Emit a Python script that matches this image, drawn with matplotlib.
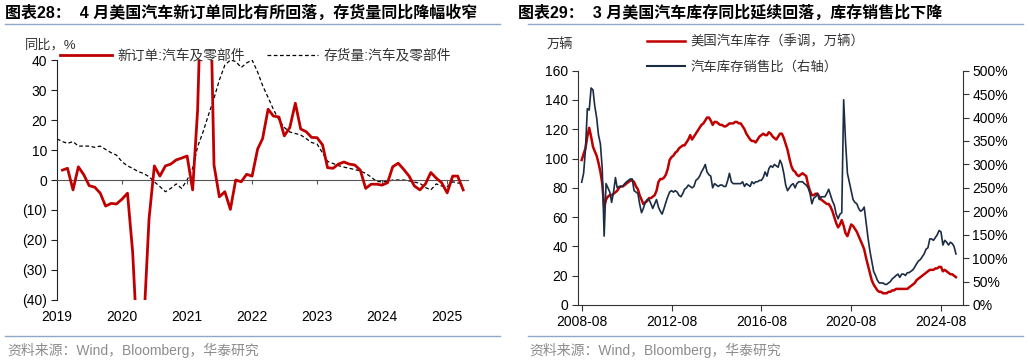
import numpy as np
import pandas as pd
import matplotlib
matplotlib.use('Agg')
import matplotlib.pyplot as plt
import matplotlib.dates as mdates
from matplotlib.ticker import FuncFormatter, MultipleLocator
from matplotlib.lines import Line2D

plt.rcParams['font.family'] = ['Liberation Sans', 'Noto Sans CJK SC']
plt.rcParams['axes.unicode_minus'] = False

RED = '#C00000'
NAVY = '#1B2C45'
RULE = '#8FA8C8'

# ---- 图表28 数据（月度，2019-01 起）----
# 新订单:汽车及零部件 同比（2019-02 起）
new_orders = [3.3, 3.9, -3.3, 4.4, 1.7, -1.9, -2.4, -4.4, -8.7, -7.8, -8.0,
              -6.4, -4.4, -24.0, -60.0, -50.0, -13.0, 4.7, 1.3, 4.7, 5.3, 6.7, 7.3,
              8.0, -3.3, 23.3, 87.0, 95.0, 5.0, -5.6, -3.9, -9.8, 0.0, -0.6, 1.9,
              1.3, 10.3, 13.8, 23.6, 21.3, 21.0, 14.7, 17.5, 25.6, 17.0, 16.1, 14.2,
              14.1, 11.7, 4.1, 3.9, 5.3, 6.0, 5.3, 5.0, 3.3, -2.8, -1.4, -1.4,
              -1.7, -0.9, 4.4, 5.6, 3.6, 1.3, -2.0, -3.3, -1.3, 2.5, 0.6, -0.9,
              -4.3, 1.3, 1.3, -3.3]
# 存货量:汽车及零部件 同比（2019-01 起）
inventory_yoy = [13.7, 12.8, 12.2, 12.8, 11.3, 11.3, 11.3, 10.9, 11.3, 10.2, 9.1, 8.3,
                 6.1, 4.7, 3.9, 2.8, 2.2, 1.1, -0.6, -2.2, -3.9, -2.8, -1.3, -2.8,
                 0.0, 3.9, 11.1, 16.1, 21.7, 27.2, 33.3, 38.3, 40.0, 39.5, 37.5, 39.0,
                 40.0, 36.0, 31.5, 27.5, 23.5, 20.0, 17.5, 16.0, 15.5, 15.0, 13.8, 12.5,
                 12.0, 9.0, 6.2, 5.5, 4.8, 4.3, 3.9, 3.5, 3.0, 2.2, 1.0, -0.5,
                 -0.6, -0.5, 0.0, 0.0, 0.0, -0.3, -0.7, -1.1, -2.5, -3.3, -1.3, -2.0,
                 -2.2, -0.6, -1.0, -1.3]
left_years = [2019, 2020, 2021, 2022, 2023, 2024, 2025]

# ---- 图表29 数据（月度，2008-08 起）----
# 美国汽车库存（季调，万辆）
us_inventory = [99, 103, 107, 115, 121, 115, 108, 105, 102, 97, 91, 83,
                67, 72, 74, 75, 75, 76, 77, 78, 80, 81, 81, 82,
                83, 84, 85, 85, 84, 81, 79, 75, 72, 69, 70, 71,
                73, 73, 74, 75, 78, 84, 86, 86, 87, 89, 93, 99,
                101, 102, 104, 105, 107, 108, 109, 109, 111, 113, 116, 113,
                115, 117, 119, 121, 123, 124, 126, 128, 128, 126, 123, 125,
                125, 124, 123, 123, 122, 122, 123, 124, 124, 124, 125, 125,
                124, 124, 122, 120, 117, 115, 113, 112, 112, 111, 113, 115,
                116, 117, 116, 116, 118, 117, 115, 114, 113, 115, 117, 117,
                114, 110, 106, 100, 95, 92, 91, 89, 88, 89, 90, 89,
                88, 82, 78, 75, 75, 76, 76, 74, 72, 71, 70, 69,
                69, 67, 64, 60, 56, 53, 55, 58, 54, 49, 47, 51,
                55, 54, 52, 50, 47, 44, 41, 38, 32, 27, 22, 17,
                14, 12, 10, 9, 9, 8, 8, 8, 9, 9, 10, 10,
                11, 11, 11, 11, 11, 11, 11, 12, 13, 14, 15, 17,
                18, 19, 20, 21, 22, 23, 24, 24, 24, 25, 25, 26,
                26, 23, 24, 23, 22, 21, 21, 20, 19]
# 汽车库存销售比（右轴，%）
inv_sales_ratio = [262, 281, 331, 419, 416, 463, 459, 425, 400, 363, 344, 291,
                   147, 259, 250, 241, 219, 241, 272, 250, 253, 253, 253, 259,
                   263, 266, 269, 269, 244, 241, 238, 216, 197, 206, 219, 225,
                   225, 216, 206, 216, 225, 209, 200, 194, 206, 219, 231, 241,
                   244, 241, 244, 241, 234, 231, 238, 247, 250, 256, 253, 250,
                   253, 266, 269, 275, 284, 291, 300, 284, 278, 275, 250, 259,
                   256, 253, 256, 256, 253, 253, 266, 281, 263, 259, 259, 259,
                   259, 259, 263, 253, 259, 256, 253, 263, 259, 263, 263, 266,
                   266, 272, 284, 275, 291, 297, 294, 300, 297, 294, 309, 300,
                   281, 256, 244, 250, 256, 259, 250, 259, 263, 263, 263, 259,
                   256, 250, 238, 216, 228, 231, 238, 225, 231, 231, 231, 238,
                   247, 234, 222, 213, 194, 184, 194, 197, 438, 350, 281, 263,
                   244, 225, 219, 216, 206, 200, 203, 209, 175, 144, 116, 94,
                   72, 63, 53, 47, 47, 47, 44, 44, 47, 50, 56, 59,
                   63, 66, 59, 66, 66, 63, 69, 69, 72, 75, 81, 88,
                   94, 97, 103, 109, 119, 122, 141, 141, 138, 144, 150, 159,
                   156, 128, 138, 134, 128, 134, 131, 125, 109]
right_ticks = ['2008-08', '2012-08', '2016-08', '2020-08', '2024-08']

fig = plt.figure(figsize=(10.29, 3.62), dpi=100)
W, H = 1029.0, 362.0

# ---------------- 左图 ----------------
left_dates = pd.date_range('2019-01-01', periods=len(inventory_yoy), freq='MS')
ax1 = fig.add_axes([57 / W, 62 / H, 411 / W, 240 / H])
ax1.plot(left_dates[1:], new_orders, color=RED, lw=2.0, zorder=3)
ax1.plot(left_dates, inventory_yoy, color='black', lw=0.9, ls=(0, (3, 2)), zorder=2)
ax1.set_ylim(-40, 40)
ax1.set_xlim(pd.Timestamp('2019-01-01'), pd.Timestamp('2025-04-28'))
ax1.yaxis.set_major_locator(MultipleLocator(10))
ax1.yaxis.set_major_formatter(
    FuncFormatter(lambda v, p: '(%d)' % abs(v) if v < 0 else '%d' % v))
for s in ['top', 'right']:
    ax1.spines[s].set_visible(False)
ax1.spines['left'].set_color('#222222')
ax1.spines['bottom'].set_position(('data', 0))
ax1.spines['bottom'].set_color('#555555')
ax1.xaxis.set_major_locator(mdates.YearLocator())
ax1.tick_params(axis='x', direction='out', length=3, color='#555555', labelbottom=False)
ax1.tick_params(axis='y', direction='out', length=4, color='#222222', labelsize=10, pad=3)
for yr in left_years:
    ax1.text(mdates.date2num(pd.Timestamp('%d-01-01' % yr)), -0.07, str(yr),
             transform=ax1.get_xaxis_transform(), ha='center', va='center', fontsize=10)

fig.text(25 / W, 1 - 45 / H, '同比，%', fontsize=9.5, va='center', ha='left', color='#333333')
h1 = [Line2D([], [], color=RED, lw=2.0),
      Line2D([], [], color='black', lw=0.9, ls=(0, (3, 2)))]
fig.legend(h1, ['新订单:汽车及零部件', '存货量:汽车及零部件'], loc='center left',
           bbox_to_anchor=(60 / W, 1 - 55.5 / H), ncol=2, frameon=False, fontsize=9.9,
           handlelength=3.75, handletextpad=0.4, columnspacing=1.6,
           borderpad=0, borderaxespad=0, labelcolor='#333333')

# ---------------- 右图 ----------------
right_dates = pd.date_range('2008-08-01', periods=len(us_inventory), freq='MS')
ax2 = fig.add_axes([577.7 / W, 57 / H, 385 / W, 234.3 / H])
ax2.plot(right_dates, us_inventory, color=RED, lw=1.8)
ax2.set_ylim(0, 160)
ax2.set_xlim(pd.Timestamp('2008-05-28'), pd.Timestamp('2025-07-20'))
ax2.yaxis.set_major_locator(MultipleLocator(20))
ax2.set_xticks([pd.Timestamp(t + '-01') for t in right_ticks])
ax2.xaxis.set_major_formatter(mdates.DateFormatter('%Y-%m'))
ax3 = ax2.twinx()
ax3.plot(right_dates, inv_sales_ratio, color=NAVY, lw=1.2)
ax3.set_ylim(0, 500)
ax3.yaxis.set_major_locator(MultipleLocator(50))
ax3.yaxis.set_major_formatter(FuncFormatter(lambda v, p: '%d%%' % v))
for s in ['top', 'right']:
    ax2.spines[s].set_visible(False)
for s in ['top', 'left', 'bottom']:
    ax3.spines[s].set_visible(False)
for sp in [ax2.spines['left'], ax2.spines['bottom'], ax3.spines['right']]:
    sp.set_color('#333333')
ax2.tick_params(direction='out', length=4, color='#333333', labelsize=10, pad=3)
ax3.tick_params(direction='out', length=4, color='#333333', labelsize=10, pad=3)

fig.text(547 / W, 1 - 44.5 / H, '万辆', fontsize=9.5, va='center', ha='left', color='#333333')
fig.legend([Line2D([], [], color=RED, lw=1.8), Line2D([], [], color=NAVY, lw=1.5)],
           ['美国汽车库存（季调，万辆）', '汽车库存销售比（右轴）'], loc='upper left',
           bbox_to_anchor=(646.7 / W, 1 - 35 / H), ncol=1, frameon=False, fontsize=9.6,
           handlelength=2.9, handletextpad=0.4, labelspacing=0.95,
           borderpad=0, borderaxespad=0, labelcolor='#333333')

# ---------------- 标题与来源 ----------------
fig.text(5 / W, 1 - 13 / H, '图表28：  4 月美国汽车新订单同比有所回落，存货量同比降幅收窄',
         fontsize=11.5, fontweight='bold', va='center', ha='left')
fig.text(518 / W, 1 - 13 / H, '图表29：  3 月美国汽车库存同比延续回落，库存销售比下降',
         fontsize=11.5, fontweight='bold', va='center', ha='left')
for x0, x1 in [(5, 500), (528, 1023)]:
    fig.add_artist(Line2D([x0 / W, x1 / W], [1 - 24 / H, 1 - 24 / H], color=RULE, lw=1.0))
    fig.add_artist(Line2D([x0 / W, x1 / W], [1 - 336 / H, 1 - 336 / H], color=RULE, lw=1.0))
fig.text(7 / W, 1 - 350 / H, '资料来源：Wind，Bloomberg，华泰研究', fontsize=10,
         color='#8C8C8C', va='center', ha='left')
fig.text(529 / W, 1 - 350 / H, '资料来源：Wind，Bloomberg，华泰研究', fontsize=10,
         color='#8C8C8C', va='center', ha='left')

fig.savefig('out.png', dpi=100)
